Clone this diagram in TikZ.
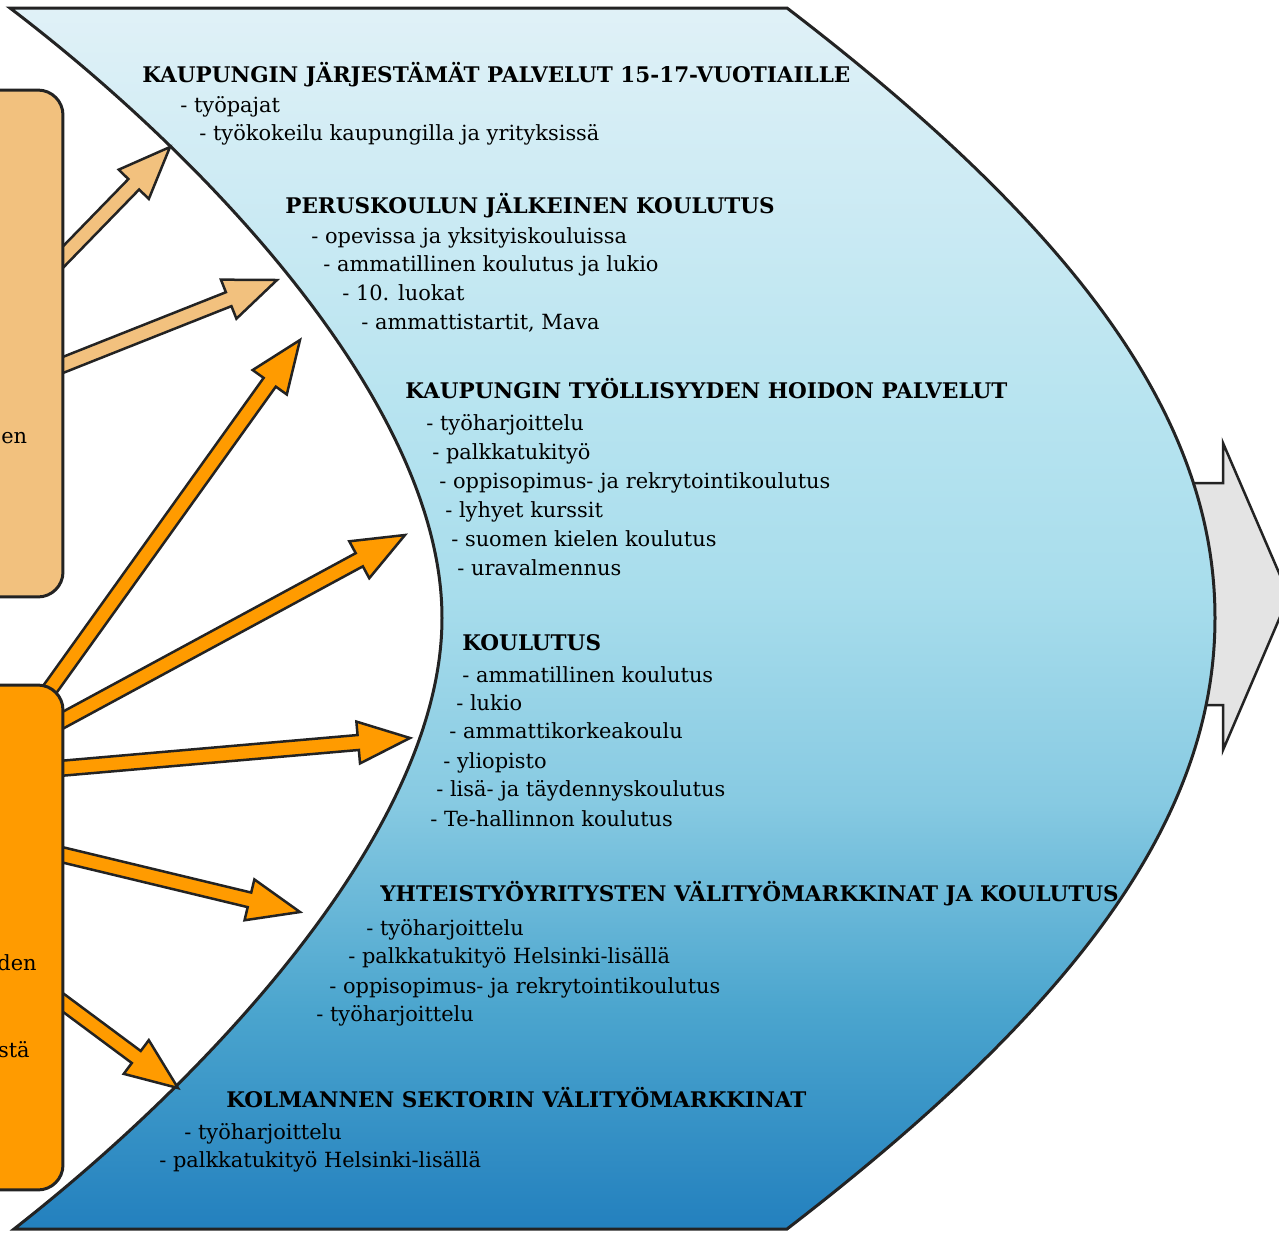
\documentclass[tikz,border=0pt]{standalone}
\usepackage{fontspec}
\setmainfont{DejaVu Serif}
\usetikzlibrary{calc}

\definecolor{tanfill}{RGB}{242,193,126}
\definecolor{orangefill}{RGB}{255,155,0}
\definecolor{greyfill}{RGB}{228,228,228}
\definecolor{edgegrey}{RGB}{35,35,35}
\definecolor{bandA}{RGB}{224,241,247}
\definecolor{bandB}{RGB}{184,228,240}
\definecolor{bandC}{RGB}{168,221,236}
\definecolor{bandD}{RGB}{135,202,226}
\definecolor{bandE}{RGB}{75,165,206}
\definecolor{bandF}{RGB}{35,128,190}
\pgfdeclareverticalshading{bandshade}{100bp}{color(0bp)=(bandF); color(25bp)=(bandF); color(34bp)=(bandE); color(42.5bp)=(bandD); color(51bp)=(bandC); color(59bp)=(bandB); color(75bp)=(bandA); color(100bp)=(bandA)}

% block arrow: fill, start, tip
\newcommand{\blockarrow}[3]{
  \coordinate (arrbase) at ($(#3)!1.04cm!(#2)$);
  \draw[arrowline,fill=#1] ($(#2)!0.15cm!90:(#3)$) -- ($(arrbase)!0.15cm!90:(#3)$)
    -- ($(arrbase)!0.42cm!90:(#3)$) -- (#3) -- ($(arrbase)!0.42cm!-90:(#3)$)
    -- ($(arrbase)!0.15cm!-90:(#3)$) -- ($(#2)!0.15cm!-90:(#3)$) -- cycle;
}

\begin{document}
\begin{tikzpicture}[x=0.02cm,y=-0.02cm,
    arrowline/.style={draw=edgegrey,line width=0.05cm,line join=miter},
    bandline/.style={draw=edgegrey,line width=0.06cm},
    sidebox/.style={draw=edgegrey,line width=0.06cm,rounded corners=0.5cm,minimum width=2.46cm},
    head/.style={anchor=base west,inner sep=0,font=\fontsize{12.25}{14}\selectfont\bfseries},
    item/.style={anchor=base west,inner sep=0,font=\fontsize{11.9}{14}\selectfont},
    cut/.style={inner sep=0,font=\fontsize{11.9}{14}\selectfont}]
    \useasboundingbox (0,0) rectangle (1279,1232);
    \clip (0,0) rectangle (1279,1232);

    % Grey arrow to the right
    \draw[arrowline,fill=greyfill] (1150,483) -- (1223,483) -- (1223,443) -- (1289,596)
      -- (1223,750) -- (1223,705) -- (1150,705) -- cycle;

    % Blue band
    \path[bandline,shade,shading=bandshade] (10,8) -- (787,8)
      .. controls (1078,231) and (1215,419) .. (1215,618)
      .. controls (1215,817) and (1078,1005) .. (787,1229) -- (14,1229)
      .. controls (207,1078) and (442,830) .. (442,618)
      .. controls (442,406) and (207,158) .. cycle;

    % City services for 15-17
    \node[head] (cityhead) at (142,82) {KAUPUNGIN JÄRJESTÄMÄT PALVELUT 15-17-VUOTIAILLE};
    \node[item] (city1) at (180,112) {- työpajat};
    \node[item] (city2) at (199,140) {- työkokeilu kaupungilla ja yrityksissä};

    % After basic school
    \node[head] (basichead) at (285,213) {PERUSKOULUN JÄLKEINEN KOULUTUS};
    \node[item] (basic1) at (311,243) {- opevissa ja yksityiskouluissa};
    \node[item] (basic2) at (323,271) {- ammatillinen koulutus ja lukio};
    \node[item] (basic3) at (342,300) {- 10. luokat};
    \node[item] (basic4) at (361,329) {- ammattistartit, Mava};

    % Employment services
    \node[head] (workhead) at (405,398) {KAUPUNGIN TYÖLLISYYDEN HOIDON PALVELUT};
    \node[item] (work1) at (426,430) {- työharjoittelu};
    \node[item] (work2) at (432,459) {- palkkatukityö};
    \node[item] (work3) at (439,488) {- oppisopimus- ja rekrytointikoulutus};
    \node[item] (work4) at (445,517) {- lyhyet kurssit};
    \node[item] (work5) at (451,546) {- suomen kielen koulutus};
    \node[item] (work6) at (457,575) {- uravalmennus};

    % Education
    \node[head] (eduhead) at (462,650) {KOULUTUS};
    \node[item] (edu1) at (462,682) {- ammatillinen koulutus};
    \node[item] (edu2) at (456,710) {- lukio};
    \node[item] (edu3) at (449,738) {- ammattikorkeakoulu};
    \node[item] (edu4) at (443,768) {- yliopisto};
    \node[item] (edu5) at (436,796) {- lisä- ja täydennyskoulutus};
    \node[item] (edu6) at (430,826) {- Te-hallinnon koulutus};

    % Partner companies
    \node[head] (firmhead) at (380,901) {YHTEISTYÖYRITYSTEN VÄLITYÖMARKKINAT JA KOULUTUS};
    \node[item] (firm1) at (366,935) {- työharjoittelu};
    \node[item] (firm2) at (348,963) {- palkkatukityö Helsinki-lisällä};
    \node[item] (firm3) at (329,993) {- oppisopimus- ja rekrytointikoulutus};
    \node[item] (firm4) at (316,1021) {- työharjoittelu};

    % Third sector
    \node[head] (thirdhead) at (226,1107) {KOLMANNEN SEKTORIN VÄLITYÖMARKKINAT};
    \node[item] (third1) at (184,1139) {- työharjoittelu};
    \node[item] (third2) at (159,1167) {- palkkatukityö Helsinki-lisällä};

    % Arrow ends
    \coordinate (tansrcA) at (30,291);
    \coordinate (tantipA) at (170,147);
    \coordinate (tansrcB) at (30,378);
    \coordinate (tantipB) at (277,280);
    \coordinate (orsrcA) at (30,717);
    \coordinate (ortipA) at (300,340);
    \coordinate (orsrcB) at (30,738);
    \coordinate (ortipB) at (405,535);
    \coordinate (orsrcC) at (30,771);
    \coordinate (ortipC) at (410,738);
    \coordinate (orsrcD) at (30,847);
    \coordinate (ortipD) at (300,912);
    \coordinate (orsrcE) at (30,978);
    \coordinate (ortipE) at (178,1088);

    % Arrows
    \blockarrow{tanfill}{tansrcA}{tantipA}
    \blockarrow{tanfill}{tansrcB}{tantipB}
    \blockarrow{orangefill}{orsrcA}{ortipA}
    \blockarrow{orangefill}{orsrcB}{ortipB}
    \blockarrow{orangefill}{orsrcC}{ortipC}
    \blockarrow{orangefill}{orsrcD}{ortipD}
    \blockarrow{orangefill}{orsrcE}{ortipE}

    % Side boxes
    \node[sidebox,fill=tanfill,minimum height=10.14cm] (youthbox) at (1.5,343.5) {};
    \node[cut,anchor=base west] (youthtxt) at (1,443) {en};
    \node[sidebox,fill=orangefill,minimum height=10.1cm] (adultbox) at (1.5,937.5) {};
    \node[cut,anchor=base east] (adulttxt) at (37,970) {den};
    \node[cut,anchor=base east] (adulttxtb) at (30,1057) {stä};
  \end{tikzpicture}
\end{document}
